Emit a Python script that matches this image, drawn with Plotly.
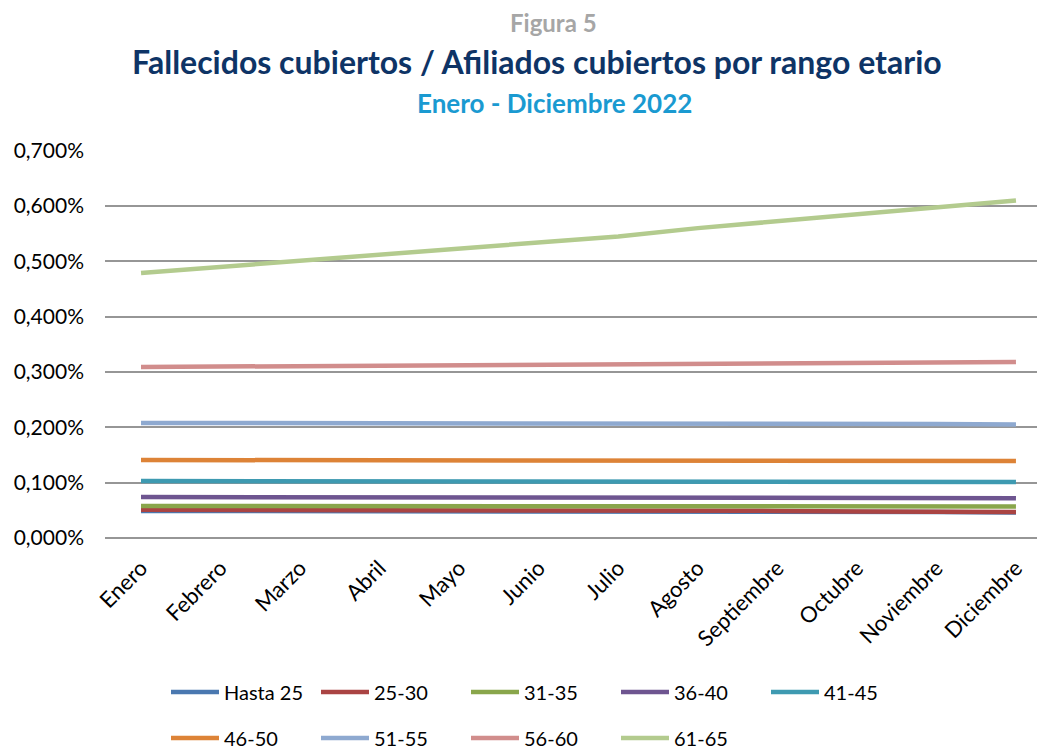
import plotly.graph_objects as go

months = ["Enero", "Febrero", "Marzo", "Abril", "Mayo", "Junio", "Julio",
          "Agosto", "Septiembre", "Octubre", "Noviembre", "Diciembre"]

series_names = ["Hasta 25", "25-30", "31-35", "36-40", "41-45",
                "46-50", "51-55", "56-60", "61-65"]

hasta_25 = [0.049, 0.049, 0.049, 0.049, 0.049, 0.049, 0.048, 0.048, 0.048, 0.048, 0.047, 0.046]
r25_30 = [0.051, 0.051, 0.051, 0.050, 0.050, 0.050, 0.049, 0.049, 0.049, 0.048, 0.048, 0.047]
r31_35 = [0.058, 0.058, 0.058, 0.058, 0.058, 0.058, 0.057, 0.057, 0.057, 0.057, 0.057, 0.057]
r36_40 = [0.074, 0.074, 0.074, 0.074, 0.074, 0.074, 0.073, 0.073, 0.073, 0.073, 0.072, 0.072]
r41_45 = [0.103, 0.103, 0.102, 0.102, 0.102, 0.102, 0.102, 0.102, 0.102, 0.102, 0.101, 0.101]
r46_50 = [0.141, 0.141, 0.141, 0.141, 0.141, 0.141, 0.140, 0.140, 0.140, 0.140, 0.139, 0.139]
r51_55 = [0.208, 0.208, 0.208, 0.208, 0.208, 0.208, 0.207, 0.207, 0.207, 0.207, 0.206, 0.205]
r56_60 = [0.309, 0.310, 0.311, 0.312, 0.313, 0.314, 0.315, 0.316, 0.317, 0.318, 0.318, 0.318]
r61_65 = [0.479, 0.490, 0.500, 0.511, 0.522, 0.533, 0.545, 0.560, 0.573, 0.586, 0.597, 0.610]

values = [hasta_25, r25_30, r31_35, r36_40, r41_45, r46_50, r51_55, r56_60, r61_65]
colors = ["#4A78B0", "#AA4443", "#89A64B", "#6E5590", "#3E9AB1",
          "#DD8337", "#8EA9D0", "#D18D8C", "#B3CB8E"]

y_ticks = [0, 0.1, 0.2, 0.3, 0.4, 0.5, 0.6, 0.7]
y_ticktext = ["0,000%", "0,100%", "0,200%", "0,300%", "0,400%", "0,500%", "0,600%", "0,700%"]

FONT = "Lato"

fig = go.Figure()
x_idx = list(range(len(months)))
for i, (name, vals, col) in enumerate(zip(series_names, values, colors)):
    fig.add_trace(go.Scatter(
        x=x_idx, y=vals, name=name, mode="lines",
        line=dict(color=col, width=4.5),
        legend="legend" if i < 5 else "legend2",
    ))

# page body has an 8px margin, so the figure is laid out in shifted coords
OFF = 8
W, H = 1045 - OFF, 751 - OFF
L, R, T, B = 105 - OFF, 0, 150 - OFF, 751 - 538
pw = W - L - R
ph = H - T - B

def px(xp):
    return (xp - OFF - L) / pw

def py(yp):
    return (H - B - (yp - OFF)) / ph

def cy(yp):
    return 1 - (yp - OFF) / H

leg_common = dict(orientation="h", xanchor="left", yanchor="middle", yref="container",
                  entrywidth=87, entrywidthmode="pixels", font=dict(size=20),
                  bgcolor="rgba(0,0,0,0)", itemwidth=48)

fig.update_layout(
    width=W, height=H,
    margin=dict(l=L, r=R, t=T, b=B),
    paper_bgcolor="white", plot_bgcolor="white",
    font=dict(family=FONT, size=20, color="#000000"),
    showlegend=True,
    legend=dict(x=px(166), y=cy(692), **leg_common),
    legend2=dict(x=px(166), y=cy(738), **leg_common),
    annotations=[
        dict(text="<b>Figura 5</b>", x=px(553), y=py(22), xref="paper", yref="paper",
             yanchor="middle", showarrow=False,
             font=dict(size=24, color="#A6A6A6", family=FONT)),
        dict(text="<b>Fallecidos cubiertos / Afiliados cubiertos por rango etario</b>",
             x=px(537), y=py(62), xref="paper", yref="paper", yanchor="middle", showarrow=False,
             font=dict(size=32, color="#0E3466", family=FONT)),
        dict(text="<b>Enero - Diciembre 2022</b>", x=px(554), y=py(103), xref="paper",
             yref="paper", yanchor="middle", showarrow=False,
             font=dict(size=26, color="#1A9AD1", family=FONT)),
    ],
)

fig.update_xaxes(
    tickmode="array", tickvals=x_idx, ticktext=months,
    range=[-0.453, 11.365], tickangle=-45, showgrid=False, zeroline=False,
    showline=False, ticks="", tickfont=dict(size=22, color="#000000", family=FONT),
    ticklabelstandoff=12, automargin=False,
)
fig.update_yaxes(
    range=[0, 0.7012], tickmode="array", tickvals=y_ticks, ticktext=y_ticktext,
    showgrid=True, gridcolor="#969696", gridwidth=1.5,
    zeroline=True, zerolinecolor="#969696", zerolinewidth=1.5,
    showline=False, ticks="", tickfont=dict(size=21, color="#000000", family=FONT),
    ticklabelstandoff=20, automargin=False,
)

fig.write_html("out.html")
